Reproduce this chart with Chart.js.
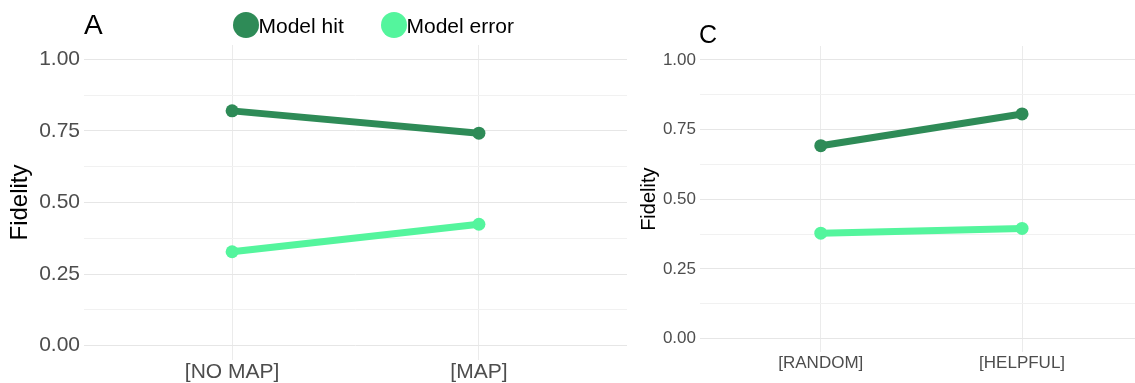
<!DOCTYPE html>
<html><head><meta charset="utf-8">
<script src="https://cdn.jsdelivr.net/npm/chart.js@4.4.1/dist/chart.umd.min.js"></script>
<style>
html,body{margin:0;padding:0;background:#fff;overflow:hidden;width:1135px;height:383px;}
#wrap{position:relative;width:1135px;height:383px;font-family:"Liberation Sans",Arial,Helvetica,sans-serif;}
canvas{position:absolute;top:0;}
.lbl{position:absolute;line-height:1;white-space:nowrap;color:#000;}
.dot{position:absolute;border-radius:50%;}
</style></head><body>
<div id="wrap">
<canvas id="cA" width="627" height="383" style="left:0px;width:627px;height:383px"></canvas>
<canvas id="cC" width="508" height="383" style="left:627px;width:508px;height:383px"></canvas>
<div class="lbl" style="left:84px;top:11.4px;font-size:28px">A</div>
<div class="lbl" style="left:699px;top:21.8px;font-size:25px">C</div>
<div id="legend"></div>
</div>
<script>
// ---- data ----
const seriesNames = ['Model hit', 'Model error'];
const seriesColors = ['#2E8B57', '#54F59D'];
const categoriesA = ['[NO MAP]', '[MAP]'];
const hitA = [0.820, 0.742];
const errorA = [0.328, 0.424];
const categoriesC = ['[RANDOM]', '[HELPFUL]'];
const hitC = [0.692, 0.806];
const errorC = [0.378, 0.395];
const yMajorTicks = [0, 0.25, 0.5, 0.75, 1];
const yMajorLabels = ['0.00', '0.25', '0.50', '0.75', '1.00'];
const yMinorTicks = [0.125, 0.375, 0.625, 0.875];
const yTitle = 'Fidelity';

const FONT = '"Liberation Sans", Arial, Helvetica, sans-serif';

function isMajor(v) { return yMajorTicks.some(t => Math.abs(t - v) < 1e-9); }

function makePanel(canvasId, cats, hit, err, o) {
  const allTicks = yMajorTicks.concat(yMinorTicks).sort((a, b) => a - b);
  const toPts = arr => arr.map((v, i) => ({ x: i + 1, y: v }));
  const ds = [hit, err].map((vals, k) => ({
    label: seriesNames[k],
    data: toPts(vals),
    borderColor: seriesColors[k],
    backgroundColor: seriesColors[k],
    pointBackgroundColor: seriesColors[k],
    pointBorderWidth: 0,
    pointRadius: o.pointRadius,
    borderWidth: o.lineWidth,
    borderCapStyle: 'butt',
    tension: 0,
    clip: false
  }));
  return new Chart(document.getElementById(canvasId), {
    type: 'line',
    data: { datasets: ds },
    options: {
      responsive: false,
      animation: false,
      devicePixelRatio: 1,
      events: [],
      layout: { autoPadding: false, padding: { top: o.top, left: 0, right: 0, bottom: 0 } },
      plugins: { legend: { display: false }, tooltip: { enabled: false }, title: { display: false } },
      scales: {
        x: {
          type: 'linear',
          min: 0.4,
          max: o.xMax,
          afterBuildTicks: s => { s.ticks = cats.map((c, i) => ({ value: i + 1 })); },
          afterFit: s => { s.height = o.xAxisHeight; s.paddingLeft = 0; s.paddingRight = 0; },
          grid: { color: '#ebebeb', lineWidth: 1, drawTicks: false },
          border: { display: false },
          ticks: {
            autoSkip: false,
            maxRotation: 0,
            padding: o.xTickPad,
            color: '#4d4d4d',
            font: { family: FONT, size: o.tickFont },
            callback: v => cats[Math.round(v) - 1]
          }
        },
        y: {
          type: 'linear',
          min: -0.05,
          max: 1.05,
          afterBuildTicks: s => { s.ticks = allTicks.map(v => ({ value: v })); },
          afterFit: s => { s.width = o.yAxisWidth; s.paddingTop = 0; s.paddingBottom = 0; },
          grid: {
            drawTicks: false,
            color: c => isMajor(c.tick.value) ? '#e6e6e6' : '#f1f1f1',
            lineWidth: 1
          },
          border: { display: false },
          title: {
            display: true,
            text: yTitle,
            color: '#000',
            font: { family: FONT, size: o.titleFont },
            padding: { top: o.titlePad, bottom: 0 }
          },
          ticks: {
            autoSkip: false,
            padding: o.yTickPad,
            color: '#4d4d4d',
            font: { family: FONT, size: o.tickFont },
            callback: v => {
              const i = yMajorTicks.findIndex(t => Math.abs(t - v) < 1e-9);
              return i >= 0 ? yMajorLabels[i] : '';
            }
          }
        }
      }
    }
  });
}

makePanel('cA', categoriesA, hitA, errorA, {
  top: 45, xAxisHeight: 23, yAxisWidth: 84, xMax: 2.6,
  tickFont: 21, titleFont: 24, titlePad: 5.6, xTickPad: 0, yTickPad: 4,
  pointRadius: 6.5, lineWidth: 7
});
makePanel('cC', categoriesC, hitC, errorC, {
  top: 46, xAxisHeight: 30.6, yAxisWidth: 73, xMax: 2.561,
  tickFont: 17, titleFont: 20, titlePad: 10, xTickPad: 1, yTickPad: 4,
  pointRadius: 6.5, lineWidth: 7
});

// ---- HTML legend (top of panel A) ----
const legendLeft = [233, 381];
const leg = document.getElementById('legend');
seriesNames.forEach((name, k) => {
  const d = document.createElement('div');
  d.className = 'dot';
  d.style.cssText = `left:${legendLeft[k]}px;top:11.5px;width:26px;height:26px;background:${seriesColors[k]}`;
  leg.appendChild(d);
  const t = document.createElement('div');
  t.className = 'lbl';
  t.style.cssText = `left:${legendLeft[k] + 25.5}px;top:14.8px;font-size:21px`;
  t.textContent = name;
  leg.appendChild(t);
});
</script>
</body></html>
